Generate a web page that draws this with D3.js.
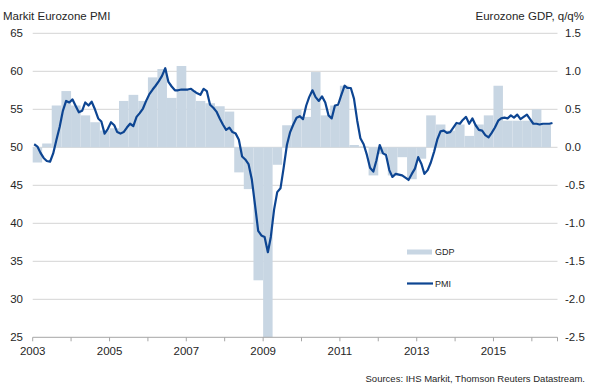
<!DOCTYPE html>
<html lang="en">
<head>
<meta charset="utf-8">
<title>Eurozone PMI and GDP</title>
<script src="https://cdn.jsdelivr.net/npm/d3@7"></script>
<style>
  body { margin: 0; background: #fff; }
  text { font-family: "Liberation Sans", Arial, sans-serif; fill: #262626; }
</style>
</head>
<body>
<script>
// monthly composite PMI, Jan 2003 .. Jul 2016
const pmi2003 = [50.4, 50.1, 49.3, 48.6, 48.2, 48.1, 49.2, 51.0, 52.7, 54.8, 56.1, 55.9];
const pmi2004 = [56.3, 55.4, 54.6, 54.8, 55.9, 55.5, 56.0, 55.0, 53.8, 53.4, 51.8, 52.4];
const pmi2005 = [53.3, 52.9, 52.0, 51.8, 52.0, 52.6, 53.1, 52.8, 54.0, 54.5, 55.1, 56.1];
const pmi2006 = [57.0, 57.6, 58.1, 58.7, 59.4, 60.4, 58.6, 58.0, 57.5, 57.5, 57.6, 57.6];
const pmi2007 = [57.6, 57.7, 57.4, 57.1, 56.9, 57.7, 57.4, 55.6, 55.2, 54.7, 53.8, 53.0];
const pmi2008 = [52.3, 52.6, 52.0, 51.8, 51.0, 48.8, 48.4, 47.8, 45.8, 42.5, 39.0, 38.4];
const pmi2009 = [38.2, 36.2, 38.2, 41.8, 44.1, 44.6, 47.3, 50.3, 52.0, 53.0, 53.9, 54.1];
const pmi2010 = [53.7, 55.5, 56.6, 57.5, 56.6, 56.1, 56.7, 55.9, 54.2, 53.8, 55.5, 55.6];
const pmi2011 = [56.9, 58.1, 57.8, 57.8, 56.4, 53.5, 51.2, 50.4, 49.0, 47.3, 46.8, 48.3];
const pmi2012 = [50.3, 49.2, 49.0, 47.0, 46.1, 46.5, 46.4, 46.3, 46.0, 45.7, 46.5, 47.2];
const pmi2013 = [48.7, 47.8, 46.5, 47.0, 48.0, 49.4, 51.0, 52.1, 52.2, 51.9, 52.0, 52.6];
const pmi2014 = [53.2, 53.1, 53.6, 54.0, 53.1, 53.8, 52.9, 52.3, 52.2, 51.6, 51.3, 51.9];
const pmi2015 = [52.6, 53.5, 53.8, 53.9, 53.8, 54.2, 53.9, 54.3, 53.7, 54.0, 54.3, 53.7];
const pmi2016 = [53.1, 53.1, 53.0, 53.1, 53.1, 53.1, 53.2];

// quarterly GDP q/q %, 2003Q1 .. 2016Q2
const gdpValues = [
  -0.2, 0.05, 0.55, 0.74,
  0.55, 0.42, 0.33, 0.22,
  0.25, 0.61, 0.69, 0.61,
  0.92, 1.03, 0.65, 1.07,
  0.75, 0.61, 0.58, 0.54,
  0.47, -0.33, -0.55, -1.75,
  -2.5, -0.23, 0.29, 0.5,
  0.4, 0.99, 0.42, 0.55,
  0.81, 0.03, 0.01, -0.37,
  -0.09, -0.37, -0.13, -0.42,
  -0.15, 0.42, 0.3, 0.22,
  0.3, 0.15, 0.3, 0.42,
  0.81, 0.35, 0.35, 0.35,
  0.5, 0.3
];

const pmiTicks = [25, 30, 35, 40, 45, 50, 55, 60, 65];
const gdpTicks = [-2.5, -2.0, -1.5, -1.0, -0.5, 0.0, 0.5, 1.0, 1.5];
const yearTicks = d3.range(2003, 2017);
const yearLabels = [2003, 2005, 2007, 2009, 2011, 2013, 2015];

const pmiValues = [].concat(pmi2003, pmi2004, pmi2005, pmi2006, pmi2007, pmi2008,
  pmi2009, pmi2010, pmi2011, pmi2012, pmi2013, pmi2014, pmi2015, pmi2016);

const width = 590, height = 391;
const plot = {left: 32.7, right: 557.5, top: 33.3, bottom: 337.3};

const svg = d3.select("body").append("svg")
    .attr("width", width)
    .attr("height", height);

const x = d3.scaleTime()
    .domain([new Date(2003, 0, 1), new Date(2016, 8, 1)])
    .range([plot.left, plot.right]);
const yP = d3.scaleLinear().domain([25, 65]).range([plot.bottom, plot.top]);
const yG = d3.scaleLinear().domain([-2.5, 1.5]).range([plot.bottom, plot.top]);

// gridlines
svg.append("g")
  .selectAll("line")
  .data(pmiTicks.slice(1))
  .join("line")
    .attr("x1", plot.left)
    .attr("x2", plot.right)
    .attr("y1", d => yP(d))
    .attr("y2", d => yP(d))
    .attr("stroke", "#d4d4d4")
    .attr("stroke-width", 1);

// GDP bars, one per quarter
svg.append("g")
  .selectAll("rect")
  .data(gdpValues)
  .join("rect")
    .attr("x", (d, i) => x(new Date(2003, i * 3, 1)))
    .attr("width", (d, i) => x(new Date(2003, i * 3 + 3, 1)) - x(new Date(2003, i * 3, 1)))
    .attr("y", d => yG(Math.max(d, 0)))
    .attr("height", d => Math.abs(yG(d) - yG(0)))
    .attr("fill", "#c8d6e3");

// bottom axis
const xAxis = svg.append("g")
    .attr("transform", `translate(0,${plot.bottom})`);
xAxis.append("line")
    .attr("x1", plot.left).attr("x2", plot.right)
    .attr("stroke", "#a6a6a6");
xAxis.selectAll(".tick")
  .data(yearTicks.concat([2016.667]))
  .join("line")
    .attr("class", "tick")
    .attr("x1", d => x(new Date(Math.floor(d), Math.round((d % 1) * 12), 1)))
    .attr("x2", d => x(new Date(Math.floor(d), Math.round((d % 1) * 12), 1)))
    .attr("y1", 0).attr("y2", 4)
    .attr("stroke", "#a6a6a6");
xAxis.selectAll("text")
  .data(yearLabels)
  .join("text")
    .attr("x", d => x(new Date(d, 0, 1)))
    .attr("y", 18)
    .attr("text-anchor", "middle")
    .attr("font-size", "11.5px")
    .text(d => d);

// left axis labels
svg.append("g")
  .selectAll("text")
  .data(pmiTicks)
  .join("text")
    .attr("x", 23)
    .attr("y", d => yP(d) + 4)
    .attr("text-anchor", "end")
    .attr("font-size", "11.5px")
    .text(d => d);

// right axis labels
svg.append("g")
  .selectAll("text")
  .data(gdpTicks)
  .join("text")
    .attr("x", 565)
    .attr("y", d => yG(d) + 4)
    .attr("text-anchor", "start")
    .attr("font-size", "11.5px")
    .text(d => d3.format(".1f")(d).replace("−", "-"));

// PMI line
const line = d3.line()
    .x((d, i) => x(new Date(2003, i, 15)))
    .y(d => yP(d));
svg.append("path")
    .datum(pmiValues)
    .attr("d", line)
    .attr("fill", "none")
    .attr("stroke", "#0d4592")
    .attr("stroke-width", 2.2)
    .attr("stroke-linejoin", "round");

// titles
svg.append("text")
    .attr("x", 3).attr("y", 20)
    .attr("font-size", "11.5px")
    .text("Markit Eurozone PMI");
svg.append("text")
    .attr("x", 584).attr("y", 20)
    .attr("text-anchor", "end")
    .attr("font-size", "11.5px")
    .text("Eurozone GDP, q/q%");

// legend
const legend = svg.append("g").attr("transform", "translate(407,252)");
legend.append("rect")
    .attr("x", 0).attr("y", -2.5)
    .attr("width", 25).attr("height", 5)
    .attr("fill", "#c8d6e3");
legend.append("text")
    .attr("x", 28).attr("y", 3)
    .attr("font-size", "9px")
    .text("GDP");
legend.append("line")
    .attr("x1", 0).attr("x2", 26)
    .attr("y1", 31.5).attr("y2", 31.5)
    .attr("stroke", "#0d4592")
    .attr("stroke-width", 2.2);
legend.append("text")
    .attr("x", 28).attr("y", 34.5)
    .attr("font-size", "9px")
    .text("PMI");

// source
svg.append("text")
    .attr("x", 585).attr("y", 382)
    .attr("text-anchor", "end")
    .attr("font-size", "9.5px")
    .text("Sources: IHS Markit, Thomson Reuters Datastream.");
</script>
</body>
</html>
